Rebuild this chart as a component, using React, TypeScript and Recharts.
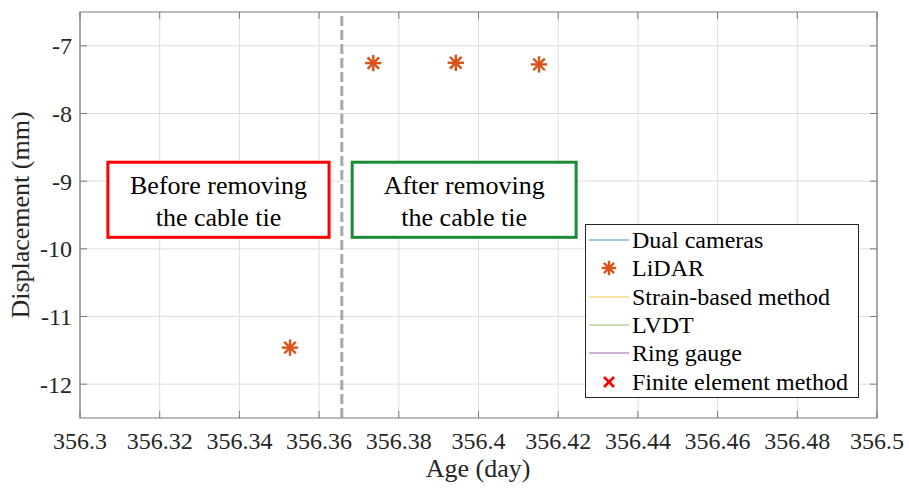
import React from 'react';
import { ScatterChart, Scatter, XAxis, YAxis, CartesianGrid, ReferenceLine, ReferenceArea } from 'recharts';

// ---- data ----
const lidarAge = [356.3527, 356.3736, 356.3943, 356.4152];
const lidarDisp = [-11.46, -7.255, -7.25, -7.275];
const xTicks = [356.3, 356.32, 356.34, 356.36, 356.38, 356.4, 356.42, 356.44, 356.46, 356.48, 356.5];
const yTicks = [-12, -11, -10, -9, -8, -7];
const xDomain = [356.3, 356.5];
const yDomain = [-12.5, -6.5];
const dividerAge = 356.3657;
const beforeBox = { x1: 356.307, x2: 356.3625, y1: -9.83, y2: -8.72 };
const afterBox = { x1: 356.3683, x2: 356.4245, y1: -9.83, y2: -8.72 };
const beforeLines = ['Before removing', 'the cable tie'];
const afterLines = ['After removing', 'the cable tie'];
const legendNames = ['Dual cameras', 'LiDAR', 'Strain-based method', 'LVDT', 'Ring gauge', 'Finite element method'];
const legendKinds = ['line', 'star', 'line', 'line', 'line', 'cross'];
const legendColors = ['#0072BD', '#D95319', '#EDB120', '#77AC30', '#7E2F8E', '#FF0000'];

const lidarData = lidarAge.map((a, i) => ({ age: a, disp: lidarDisp[i] }));

// ---- layout ----
const W = 909;
const H = 491;
const M = { top: 12, right: 32, left: 0, bottom: 0 };
const Y_W = 80;
const X_H = 73;
const PLOT_TOP = M.top;
const PLOT_RIGHT = W - M.right;
const FONT = '"Liberation Serif", "Times New Roman", serif';
const FRAME = '#7a7a7a';
const TICK_LEN = 7;

const fmtX = (v: number) => String(Number(v.toFixed(2)));

const XTick = (props: any) => {
  const { x, y, payload } = props;
  return (
    <g>
      <line x1={x} y1={y} x2={x} y2={y - TICK_LEN} stroke={FRAME} strokeWidth={1} />
      <line x1={x} y1={PLOT_TOP} x2={x} y2={PLOT_TOP + TICK_LEN} stroke={FRAME} strokeWidth={1} />
      <text x={x} y={y + 31} textAnchor="middle" fontFamily={FONT} fontSize={24} fill="#262626">
        {fmtX(payload.value)}
      </text>
    </g>
  );
};

const YTick = (props: any) => {
  const { x, y, payload } = props;
  return (
    <g>
      <line x1={x} y1={y} x2={x + TICK_LEN} y2={y} stroke={FRAME} strokeWidth={1} />
      <line x1={PLOT_RIGHT} y1={y} x2={PLOT_RIGHT - TICK_LEN} y2={y} stroke={FRAME} strokeWidth={1} />
      <text x={x - 8} y={y} dy="0.35em" textAnchor="end" fontFamily={FONT} fontSize={24} fill="#262626">
        {String(payload.value)}
      </text>
    </g>
  );
};

const Asterisk = (props: any) => {
  const { cx, cy, color = '#D95319', r = 7 } = props;
  const d = r * 0.707;
  return (
    <g stroke={color} strokeWidth={2.4} strokeLinecap="square">
      <line x1={cx - r} y1={cy} x2={cx + r} y2={cy} />
      <line x1={cx} y1={cy - r} x2={cx} y2={cy + r} />
      <line x1={cx - d} y1={cy - d} x2={cx + d} y2={cy + d} />
      <line x1={cx - d} y1={cy + d} x2={cx + d} y2={cy - d} />
    </g>
  );
};

const makeBox = (lines: string[], color: string) => (props: any) => {
  const { x, y, width, height } = props;
  const cx = x + width / 2;
  const cy = y + height / 2;
  return (
    <g>
      <rect x={x} y={y} width={width} height={height} fill="#ffffff" stroke={color} strokeWidth={3} />
      <text x={cx} y={cy - 6} textAnchor="middle" fontFamily={FONT} fontSize={26} fill="#000">
        {lines[0]}
      </text>
      <text x={cx} y={cy + 26} textAnchor="middle" fontFamily={FONT} fontSize={26} fill="#000">
        {lines[1]}
      </text>
    </g>
  );
};

const LegendBox = () => (
  <div
    style={{
      position: 'absolute',
      left: 585,
      top: 224,
      border: '1px solid #262626',
      background: '#fff',
      width: 274,
      padding: '1px 0 1px 0',
      fontFamily: FONT,
      fontSize: 24,
      color: '#000',
      boxSizing: 'border-box',
    }}
  >
    {legendNames.map((name, i) => (
      <div key={name} style={{ display: 'flex', alignItems: 'center', height: 28.3, lineHeight: '28px' }}>
        <svg width={46} height={20} style={{ flex: 'none' }}>
          {legendKinds[i] === 'line' && (
            <line x1={3} y1={10} x2={43} y2={10} stroke={legendColors[i]} strokeWidth={1.2} opacity={0.75} />
          )}
          {legendKinds[i] === 'star' && <Asterisk cx={23} cy={10} r={6} color={legendColors[i]} />}
          {legendKinds[i] === 'cross' && (
            <g stroke={legendColors[i]} strokeWidth={2.6}>
              <line x1={18} y1={5} x2={28} y2={15} />
              <line x1={18} y1={15} x2={28} y2={5} />
            </g>
          )}
        </svg>
        <span style={{ whiteSpace: 'nowrap' }}>{name}</span>
      </div>
    ))}
  </div>
);

export default function App() {
  return (
    <div style={{ position: 'absolute', left: 0, top: 0, width: W, height: H, background: '#fff' }}>
      <ScatterChart width={W} height={H} margin={M}>
        <CartesianGrid stroke="#dedede" strokeWidth={1} horizontalValues={yTicks} verticalValues={xTicks} />
        <XAxis
          type="number"
          dataKey="age"
          domain={xDomain}
          ticks={xTicks}
          allowDataOverflow
          height={X_H}
          axisLine={false}
          tickLine={false}
          tickSize={0}
          tickMargin={0}
          tick={<XTick />}
          interval={0}
        />
        <YAxis
          type="number"
          dataKey="disp"
          domain={yDomain}
          ticks={yTicks}
          allowDataOverflow
          width={Y_W}
          axisLine={false}
          tickLine={false}
          tickSize={0}
          tickMargin={0}
          tick={<YTick />}
          interval={0}
        />
        <ReferenceArea
          x1={xDomain[0]}
          x2={xDomain[1]}
          y1={yDomain[0]}
          y2={yDomain[1]}
          fill="none"
          fillOpacity={0}
          stroke={FRAME}
          strokeWidth={1.2}
        />
        <ReferenceLine x={dividerAge} stroke="#a8a8a8" strokeWidth={3} strokeDasharray="10 4" />
        <ReferenceArea
          x1={beforeBox.x1}
          x2={beforeBox.x2}
          y1={beforeBox.y1}
          y2={beforeBox.y2}
          shape={makeBox(beforeLines, '#FF0000')}
        />
        <ReferenceArea
          x1={afterBox.x1}
          x2={afterBox.x2}
          y1={afterBox.y1}
          y2={afterBox.y2}
          shape={makeBox(afterLines, '#1E8A36')}
        />
        <Scatter data={lidarData} fill="#D95319" shape={<Asterisk />} isAnimationActive={false} />
      </ScatterChart>
      <LegendBox />
      <svg width={W} height={H} style={{ position: 'absolute', left: 0, top: 0, pointerEvents: 'none' }}>
        <text x={478} y={477} textAnchor="middle" fontFamily={FONT} fontSize={26} fill="#262626">
          Age (day)
        </text>
        <text
          transform="translate(29, 215) rotate(-90)"
          textAnchor="middle"
          fontFamily={FONT}
          fontSize={26}
          fill="#262626"
        >
          Displacement (mm)
        </text>
      </svg>
    </div>
  );
}
